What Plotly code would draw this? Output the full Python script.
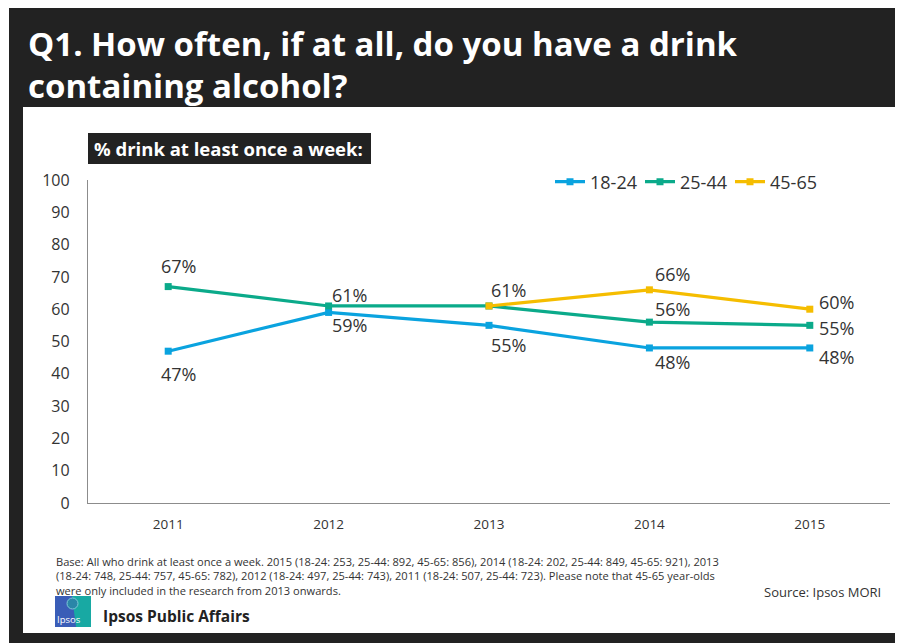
import plotly.graph_objects as go

# ---- data ----
years = ["2011", "2012", "2013", "2014", "2015"]
s_18_24 = [47, 59, 55, 48, 48]
s_25_44 = [67, 61, 61, 56, 55]
s_45_65 = [None, None, 61, 66, 60]
series_names = ["18-24", "25-44", "45-65"]
y_ticks = [0, 10, 20, 30, 40, 50, 60, 70, 80, 90, 100]

title_lines = ["Q1. How often, if at all, do you have a drink", "containing alcohol?"]
subtitle = "% drink at least once a week:"
foot_lines = [
    "Base: All who drink at least once a week. 2015 (18-24: 253, 25-44: 892, 45-65: 856), 2014 (18-24: 202, 25-44: 849, 45-65: 921), 2013",
    "(18-24: 748, 25-44: 757, 45-65: 782), 2012 (18-24: 497, 25-44: 743), 2011 (18-24: 507, 25-44: 723). Please note that 45-65 year-olds",
    "were only included in the research from 2013 onwards.",
]
source_text = "Source: Ipsos MORI"
brand_text = "Ipsos Public Affairs"

# ---- style ----
# page has an 8px body margin; figure covers page (8,8)-(903,643)
OFF = 8
W, H = 903 - OFF, 643 - OFF
PX0, PX1, PY0, PY1 = 88, 890, 180, 503  # plot area in page pixels
L, R, T, B = PX0 - OFF, 903 - PX1, PY0 - OFF, 643 - PY1
colors = ["#0AA3DF", "#0BAA8A", "#F5BD00"]
DARK = "#222222"
FONT = "Open Sans"

# label offsets (px right, px up) per point
offsets = [
    [(10, -23), (21, -13), (19, -20), (23, -14), (27, -9)],
    [(10, 21), (21, 11), None, (23, 13), (27, -3)],
    [None, None, (19, 16), (23, 16), (27, 7)],
]

pw, ph = PX1 - PX0, PY1 - PY0


def px(x):
    return (x - PX0) / pw


def py(y):
    return (PY1 - y) / ph


fig = go.Figure()
all_series = [s_18_24, s_25_44, s_45_65]
for name, vals, c in zip(series_names, all_series, colors):
    fig.add_trace(go.Scatter(
        x=years, y=vals, name=name, mode="lines+markers",
        line=dict(color=c, width=3.2),
        marker=dict(symbol="square", size=7, color=c),
        connectgaps=False, cliponaxis=False,
    ))

annotations = []
for vals, offs in zip(all_series, offsets):
    for i, (v, o) in enumerate(zip(vals, offs)):
        if v is None or o is None:
            continue
        annotations.append(dict(
            x=i, y=v, xref="x", yref="y", text=f"{v}%", showarrow=False,
            xshift=o[0], yshift=o[1], xanchor="center", yanchor="middle",
            font=dict(family=FONT, size=18, color="#333333"),
        ))

# title
for i, t in enumerate(title_lines):
    annotations.append(dict(
        x=px(26), y=py(43 + i * 43), xref="paper", yref="paper", text=f"<b>{t}</b>",
        showarrow=False, xanchor="left", yanchor="middle",
        font=dict(family=FONT, size=33, color="white"),
    ))
# subtitle
annotations.append(dict(
    x=px(92), y=py(148), xref="paper", yref="paper", text=f"<b>{subtitle}</b>",
    showarrow=False, xanchor="left", yanchor="middle",
    font=dict(family=FONT, size=18.5, color="white"),
))
# footnote (one block)
annotations.append(dict(
    x=px(54), y=py(575.5), xref="paper", yref="paper", text="<br>".join(foot_lines),
    showarrow=False, xanchor="left", yanchor="middle", align="left",
    font=dict(family=FONT, size=11.1, color="#333333"),
))
annotations.append(dict(
    x=px(883), y=py(592), xref="paper", yref="paper", text=source_text,
    showarrow=False, xanchor="right", yanchor="middle",
    font=dict(family=FONT, size=13, color="#333333"),
))
annotations.append(dict(
    x=px(101), y=py(616), xref="paper", yref="paper", text=f"<b>{brand_text}</b>",
    showarrow=False, xanchor="left", yanchor="middle",
    font=dict(family=FONT, size=15.5, color="#222222"),
))
annotations.append(dict(
    x=px(55), y=py(619), xref="paper", yref="paper", text="Ipsos",
    showarrow=False, xanchor="left", yanchor="middle",
    font=dict(family=FONT, size=9.5, color="white"),
))

shapes = [
    dict(type="rect", xref="paper", yref="paper", x0=px(9), x1=px(905), y0=py(7), y1=py(645),
         fillcolor=DARK, line_width=0, layer="below"),
    dict(type="rect", xref="paper", yref="paper", x0=px(23), x1=px(897), y0=py(107), y1=py(633),
         fillcolor="white", line_width=0, layer="below"),
    dict(type="rect", xref="paper", yref="paper", x0=px(88), x1=px(371), y0=py(133), y1=py(164),
         fillcolor=DARK, line_width=0, layer="below"),
    dict(type="rect", xref="paper", yref="paper", x0=px(55), x1=px(91), y0=py(596), y1=py(627),
         fillcolor="#3A5DB7", line_width=0, layer="below"),
    dict(type="path", xref="paper", yref="paper",
         path=f"M {px(72)},{py(596)} L {px(91)},{py(596)} L {px(91)},{py(627)} L {px(76)},{py(627)} Z",
         fillcolor="#18A9A3", line_width=0, layer="below"),
    dict(type="circle", xref="paper", yref="paper", x0=px(67), x1=px(78), y0=py(598), y1=py(609),
         fillcolor="#2A86A8", line=dict(color="#7FC8D8", width=1), layer="below"),
]

fig.update_layout(
    width=W, height=H,
    margin=dict(l=L, r=R, t=T, b=B, autoexpand=False),
    paper_bgcolor="white", plot_bgcolor="rgba(0,0,0,0)",
    font=dict(family=FONT, color="#333333"),
    showlegend=True,
    legend=dict(orientation="h", x=px(550), y=py(182), xanchor="left", yanchor="middle",
                font=dict(family=FONT, size=18, color="#333333"),
                bgcolor="rgba(0,0,0,0)", itemwidth=30, tracegroupgap=0,
                entrywidth=45, entrywidthmode="pixels"),
    xaxis=dict(type="category", categoryorder="array", categoryarray=years,
               range=[-0.5, 4.5], showgrid=False, showline=True, linecolor="#8C8C8C", linewidth=1.3,
               ticks="outside", ticklen=9, tickcolor="rgba(0,0,0,0)", zeroline=False,
               tickfont=dict(family=FONT, size=13.5, color="#333333"), fixedrange=True),
    yaxis=dict(range=[0, 100], tickvals=y_ticks, showgrid=False, showline=True,
               linecolor="#8C8C8C", linewidth=1.3, ticks="outside", ticklen=14,
               tickcolor="rgba(0,0,0,0)", zeroline=False,
               tickfont=dict(family=FONT, size=16, color="#333333"), fixedrange=True),
    annotations=annotations, shapes=shapes,
)

fig.write_html("out.html")
